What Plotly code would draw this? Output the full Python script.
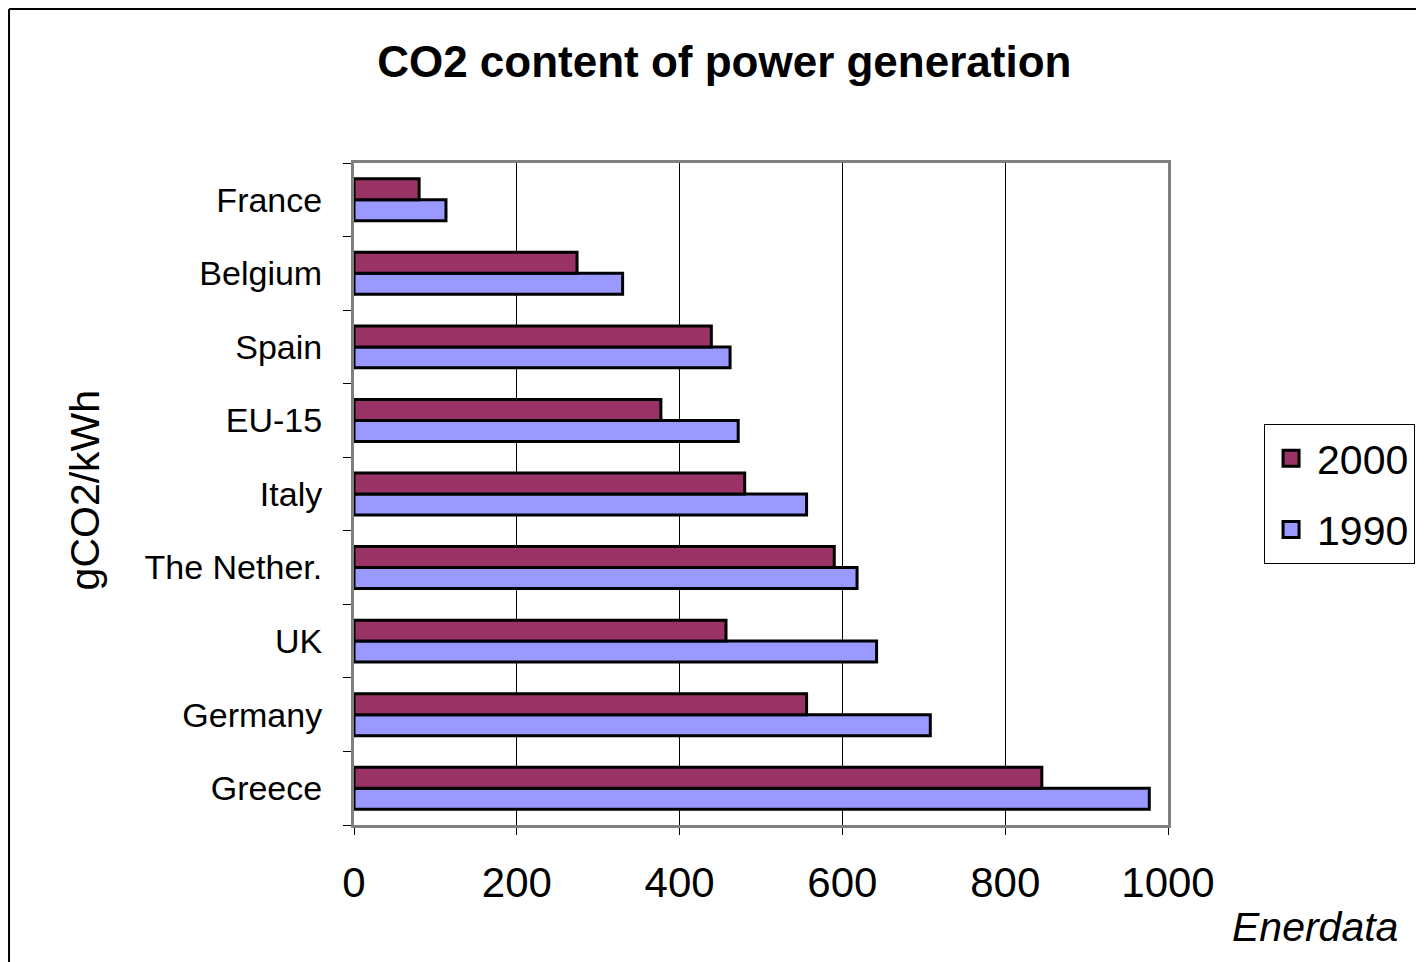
import plotly.graph_objects as go

countries = ["Greece", "Germany", "UK", "The Nether.", "Italy", "EU-15", "Spain", "Belgium", "France"]
values_2000 = [845, 556, 457, 590, 480, 377, 439, 274, 80]
values_1990 = [977, 708, 642, 618, 556, 472, 462, 330, 113]
x_ticks = [0, 200, 400, 600, 800, 1000]

MAROON = "#993366"
LILAC = "#9999FF"
FONT = "Arial, Liberation Sans, sans-serif"

fig = go.Figure()
fig.add_trace(go.Bar(
    y=countries, x=values_1990, name="1990", orientation="h", showlegend=False,
    marker=dict(color=LILAC, line=dict(color="black", width=3)),
))
fig.add_trace(go.Bar(
    y=countries, x=values_2000, name="2000", orientation="h", showlegend=False,
    marker=dict(color=MAROON, line=dict(color="black", width=3)),
))

# legend entries with big square swatches
for name, col in [("2000", MAROON), ("1990", LILAC)]:
    fig.add_trace(go.Scatter(
        x=[None], y=[None], mode="markers", name=name, legendgroup=name,
        marker=dict(symbol="square", size=16, color=col, line=dict(color="black", width=3)),
    ))

# the page body adds 8px margin, so the margins are shifted by 8px
fig.update_layout(
    width=1424,
    height=962,
    margin=dict(l=346, r=264, t=155, b=145),
    paper_bgcolor="white",
    plot_bgcolor="white",
    font=dict(family=FONT, color="black"),
    barmode="group",
    bargap=0.43,
    bargroupgap=0,
    title=dict(
        text="<b>CO2 content of power generation</b>",
        x=0.503, xref="container", xanchor="center",
        y=0.944, yref="container", yanchor="middle",
        font=dict(size=44),
    ),
    legend=dict(
        x=1.118, y=0.5, xanchor="left", yanchor="middle",
        traceorder="grouped", tracegroupgap=15,
        bordercolor="black", borderwidth=1,
        font=dict(size=41),
        itemwidth=42,
    ),
)

fig.update_xaxes(
    range=[0, 1000], tickvals=x_ticks,
    showgrid=True, gridcolor="black", gridwidth=1,
    showline=True, linecolor="#808080", linewidth=3, mirror=True,
    ticks="outside", ticklen=7, tickcolor="black",
    tickfont=dict(size=42), zeroline=False, ticklabelstandoff=12,
)
fig.update_yaxes(
    tickson="boundaries",
    showline=True, linecolor="#808080", linewidth=3, mirror=True,
    ticks="outside", ticklen=8, tickcolor="black",
    tickfont=dict(size=34), showgrid=False, ticklabelstandoff=22,
)

fig.add_annotation(
    text="gCO2/kWh", textangle=-90, xref="paper", yref="paper",
    x=-0.33, y=0.506, xanchor="center", yanchor="middle",
    showarrow=False, font=dict(size=41),
)
fig.add_annotation(
    text="<i>Enerdata</i>", xref="paper", yref="paper",
    x=1.1806, y=-0.154, xanchor="center", yanchor="middle",
    showarrow=False, font=dict(size=41),
)

# outer chart border (left and top edges visible)
fig.add_shape(type="line", xref="paper", yref="paper",
              x0=-0.4238, x1=-0.4238, y0=-0.3, y1=1.2326,
              line=dict(color="black", width=2))
fig.add_shape(type="line", xref="paper", yref="paper",
              x0=-0.4238, x1=1.4, y0=1.2326, y1=1.2326,
              line=dict(color="black", width=2))

fig.write_html("out.html")
